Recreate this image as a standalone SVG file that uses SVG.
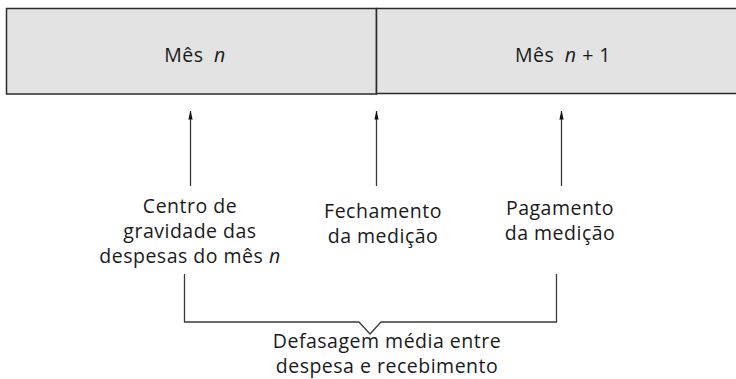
<svg xmlns="http://www.w3.org/2000/svg" width="736" height="379" viewBox="0 0 736 379">
<style>
text{font-family:"Open Sans","Noto Sans","DejaVu Sans",sans-serif;font-size:19.5px;letter-spacing:0.5px;fill:#1a1a1a;text-anchor:middle}
.i{font-style:italic}
.box{fill:#e3e3e3;stroke:#2a2a2a;stroke-width:1.5}
.ln{stroke:#3a3a3a;stroke-width:1.3;fill:none}
</style>
<defs>
<marker id="ah" viewBox="0 0 9 6" refX="8.5" refY="3" markerWidth="9" markerHeight="6" markerUnits="userSpaceOnUse" orient="auto">
<path d="M0,0.9 L9,3 L0,5.1 Z" fill="#111"/>
</marker>
</defs>
<g id="mes-n">
<rect class="box" x="6.5" y="8.5" width="370" height="85.5"/>
<text x="195" y="62">Mês <tspan class="i" dx="5">n</tspan></text>
</g>
<g id="mes-n1">
<rect class="box" x="376.5" y="8.5" width="370" height="85"/>
<text x="563" y="62">Mês <tspan class="i" dx="5">n</tspan> + 1</text>
</g>
<g id="connectors">
<line class="ln" x1="190.5" y1="186" x2="190.5" y2="111" marker-end="url(#ah)"/>
<line class="ln" x1="376.5" y1="186" x2="376.5" y2="111" marker-end="url(#ah)"/>
<line class="ln" x1="561.5" y1="186" x2="561.5" y2="111" marker-end="url(#ah)"/>
<path class="ln" d="M184.5,274 V322 H359 L370,334 L381,322 H556.5 V274"/>
</g>
<g id="centro">
<text x="190" y="213">Centro de</text>
<text x="190" y="238">gravidade das</text>
<text x="190" y="263">despesas do mês <tspan class="i">n</tspan></text>
</g>
<g id="fechamento">
<text x="383" y="218">Fechamento</text>
<text x="383" y="243">da medição</text>
</g>
<g id="pagamento">
<text x="560" y="215">Pagamento</text>
<text x="560" y="240">da medição</text>
</g>
<g id="defasagem">
<text x="387" y="348">Defasagem média entre</text>
<text x="387" y="373">despesa e recebimento</text>
</g>
</svg>
